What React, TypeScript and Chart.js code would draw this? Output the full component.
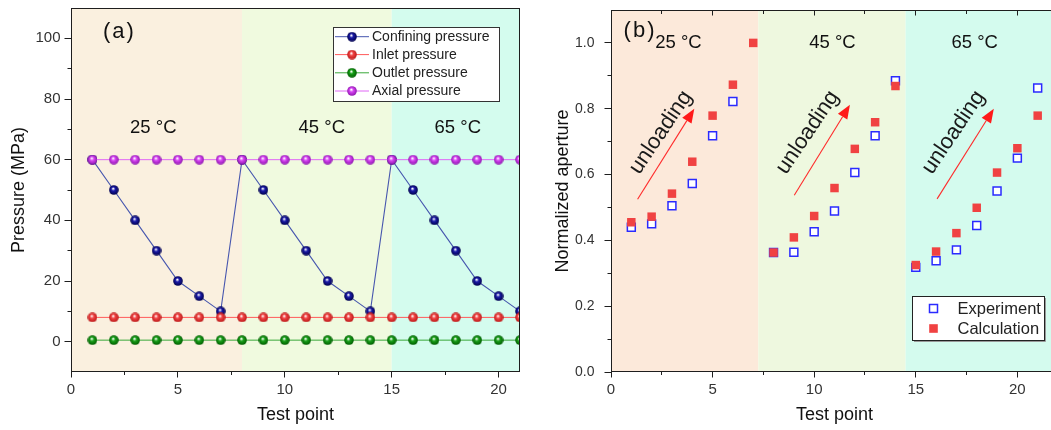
import React, { useEffect, useRef } from "react";
import { Chart, registerables } from "chart.js";

Chart.register(...registerables);

const FONT = '"Liberation Sans", Arial, Helvetica, sans-serif';

// ---------- Panel (a) data ----------
const testPoints = [1, 2, 3, 4, 5, 6, 7, 8, 9, 10, 11, 12, 13, 14, 15, 16, 17, 18, 19, 20, 21];
const confiningPressure = [60, 50, 40, 30, 20, 15, 10, 60, 50, 40, 30, 20, 15, 10, 60, 50, 40, 30, 20, 15, 10];
const inletPressure = [8, 8, 8, 8, 8, 8, 8, 8, 8, 8, 8, 8, 8, 8, 8, 8, 8, 8, 8, 8, 8];
const outletPressure = [0.5, 0.5, 0.5, 0.5, 0.5, 0.5, 0.5, 0.5, 0.5, 0.5, 0.5, 0.5, 0.5, 0.5, 0.5, 0.5, 0.5, 0.5, 0.5, 0.5, 0.5];
const axialPressure = [60, 60, 60, 60, 60, 60, 60, 60, 60, 60, 60, 60, 60, 60, 60, 60, 60, 60, 60, 60, 60];
const pressureTicks = [0, 20, 40, 60, 80, 100];
const pressureTickLabels = ["0", "20", "40", "60", "80", "100"];
const pressureMinorTicks = [10, 30, 50, 70, 90];
const testPointTicks = [0, 5, 10, 15, 20];
const testPointTickLabels = ["0", "5", "10", "15", "20"];
const testPointMinorTicks = [2.5, 7.5, 12.5, 17.5];
const temperatureLabels = ["25 °C", "45 °C", "65 °C"];
const stageBoundsA = [0, 8, 15, 21];
const stageBoundsB = [0, 7.25, 14.5, 22];

// ---------- Panel (b) data ----------
const experimentAperture = [0.44, 0.45, 0.505, 0.573, 0.718, 0.822, null, 0.363, 0.364, 0.426, 0.489, 0.606, 0.718, 0.885, 0.318, 0.338, 0.371, 0.445, 0.55, 0.65, 0.863];
const calculationAperture = [0.455, 0.472, 0.542, 0.639, 0.779, 0.873, 1.0, 0.363, 0.409, 0.474, 0.559, 0.678, 0.759, 0.869, 0.325, 0.366, 0.422, 0.499, 0.606, 0.68, 0.779];
const apertureTicks = [0, 0.2, 0.4, 0.6, 0.8, 1.0];
const apertureTickLabels = ["0.0", "0.2", "0.4", "0.6", "0.8", "1.0"];
const apertureMinorTicks = [0.1, 0.3, 0.5, 0.7, 0.9];
// unloading arrows: [x0, y0, x1, y1] in data units, and text centres
const unloadingArrowsB = [
  [1.31, 0.525, 4.1, 0.8],
  [9.02, 0.537, 11.76, 0.812],
  [16.05, 0.526, 18.84, 0.8],
];
const unloadingTextPos = [
  [2.45, 0.728],
  [9.68, 0.728],
  [16.86, 0.728],
];

function ball(color: string, dark: string, size = 10): HTMLCanvasElement {
  const c = document.createElement("canvas");
  c.width = size;
  c.height = size;
  const g = c.getContext("2d")!;
  const r = size / 2;
  const grad = g.createRadialGradient(r * 0.85, r * 0.7, 0.3, r, r, r);
  grad.addColorStop(0, "#ffffff");
  grad.addColorStop(0.35, color);
  grad.addColorStop(1, dark);
  g.fillStyle = grad;
  g.beginPath();
  g.arc(r, r, r - 0.2, 0, Math.PI * 2);
  g.fill();
  return c;
}

function seg(ctx: CanvasRenderingContext2D, x1: number, y1: number, x2: number, y2: number) {
  ctx.beginPath();
  ctx.moveTo(x1, y1);
  ctx.lineTo(x2, y2);
  ctx.stroke();
}
const h = (v: number) => Math.round(v) + 0.5;

type PanelCfg = {
  bounds: number[];
  colors: string[];
  yMajor: number[];
  yMinor: number[];
  yLabels: string[];
  yLabelGap: number;
  yLabelFont: number;
  xMajor: number[];
  xMinor: number[];
  xLabels: string[];
  topTicks: boolean;
  rightLine: boolean;
  yTitle: string;
  yTitleX: number;
  xTitle: string;
  extra: (chart: any) => void;
};

function framePlugin(cfg: PanelCfg) {
  return {
    id: "frame",
    beforeDatasetsDraw(chart: any) {
      const { ctx, chartArea: a, scales } = chart;
      const x = scales.x;
      ctx.save();
      for (let i = 0; i < cfg.colors.length; i++) {
        const x0 = x.getPixelForValue(cfg.bounds[i]);
        const x1 = x.getPixelForValue(cfg.bounds[i + 1]);
        ctx.fillStyle = cfg.colors[i];
        ctx.fillRect(x0, a.top, x1 - x0, a.bottom - a.top);
      }
      ctx.restore();
    },
    afterDatasetsDraw(chart: any) {
      const { ctx, chartArea: a, scales } = chart;
      const x = scales.x;
      const y = scales.y;
      ctx.save();
      ctx.strokeStyle = "#1e1e1e";
      ctx.lineWidth = 1;
      const L = Math.floor(a.left) + 0.5;
      const R = Math.floor(a.right) - 0.5;
      const T = Math.floor(a.top) + 0.5;
      const B = Math.floor(a.bottom) - 0.5;
      seg(ctx, L, T, L, B + 0.5);
      seg(ctx, L - 0.5, B, R + 0.5, B);
      seg(ctx, L - 0.5, T, R + 0.5, T);
      if (cfg.rightLine) seg(ctx, R, T, R, B);
      cfg.yMajor.forEach((v) => {
        const p = h(y.getPixelForValue(v) - 0.5);
        seg(ctx, L - 7, p, L, p);
      });
      cfg.yMinor.forEach((v) => {
        const p = h(y.getPixelForValue(v) - 0.5);
        seg(ctx, L - 4, p, L, p);
      });
      cfg.xMajor.forEach((v) => {
        const p = h(x.getPixelForValue(v) - 0.5);
        seg(ctx, p, B, p, B + 6);
        if (cfg.topTicks) seg(ctx, p, T, p, T + 5);
      });
      cfg.xMinor.forEach((v) => {
        const p = h(x.getPixelForValue(v) - 0.5);
        seg(ctx, p, B, p, B + 3.5);
        if (cfg.topTicks) seg(ctx, p, T, p, T + 3.5);
      });
      ctx.fillStyle = "#333";
      ctx.font = `${cfg.yLabelFont}px ${FONT}`;
      ctx.textAlign = "right";
      ctx.textBaseline = "middle";
      cfg.yMajor.forEach((v, i) => {
        ctx.fillText(cfg.yLabels[i], L - cfg.yLabelGap, y.getPixelForValue(v));
      });
      ctx.font = `15px ${FONT}`;
      ctx.textAlign = "center";
      cfg.xMajor.forEach((v, i) => {
        ctx.fillText(cfg.xLabels[i], x.getPixelForValue(v), B + 18);
      });
      ctx.fillStyle = "#111";
      ctx.font = `18px ${FONT}`;
      ctx.fillText(cfg.xTitle, (a.left + a.right) / 2, 415);
      ctx.save();
      ctx.translate(cfg.yTitleX, (a.top + a.bottom) / 2);
      ctx.rotate(-Math.PI / 2);
      ctx.fillText(cfg.yTitle, 0, 0);
      ctx.restore();
      cfg.extra(chart);
      ctx.restore();
    },
  };
}

function drawText(ctx: CanvasRenderingContext2D, text: string, px: number, py: number, size: number, spacing = "0px") {
  ctx.save();
  ctx.fillStyle = "#111";
  ctx.font = `${size}px ${FONT}`;
  (ctx as any).letterSpacing = spacing;
  ctx.textAlign = "center";
  ctx.textBaseline = "middle";
  ctx.fillText(text, px, py);
  ctx.restore();
}

export default function App() {
  const refA = useRef<HTMLCanvasElement | null>(null);
  const refB = useRef<HTMLCanvasElement | null>(null);

  useEffect(() => {
    const navy = ball("#1a1aa8", "#00004a");
    const red = ball("#f24444", "#b81818");
    const green = ball("#18a018", "#005a00");
    const magenta = ball("#d846f4", "#8c14ac");

    const pts = (vals: (number | null)[]) => testPoints.map((t, i) => ({ x: t, y: vals[i] }));

    const chartA = new Chart(refA.current!, {
      type: "line",
      data: {
        datasets: [
          { label: "Confining pressure", data: pts(confiningPressure), borderColor: "#4656ae", borderWidth: 1.1, pointStyle: navy as any, pointRadius: 5, order: 4 },
          { label: "Inlet pressure", data: pts(inletPressure), borderColor: "#ff5a5a", borderWidth: 1, pointStyle: red as any, pointRadius: 5, order: 3 },
          { label: "Outlet pressure", data: pts(outletPressure), borderColor: "#3aa83a", borderWidth: 1, pointStyle: green as any, pointRadius: 5, order: 2 },
          { label: "Axial pressure", data: pts(axialPressure), borderColor: "#e066f6", borderWidth: 1, pointStyle: magenta as any, pointRadius: 5, order: 1 },
        ],
      },
      options: {
        animation: false,
        responsive: false,
        devicePixelRatio: 1,
        events: [],
        layout: { padding: { left: 71, top: 8, right: 20, bottom: 58 } },
        scales: {
          x: { type: "linear", min: 0, max: 21, display: false },
          y: { type: "linear", min: -10, max: 110, display: false },
        },
        plugins: { legend: { display: false }, tooltip: { enabled: false } },
      },
      plugins: [
        framePlugin({
          bounds: stageBoundsA,
          colors: ["#faf0df", "#f0fadf", "#d4fcee"],
          yMajor: pressureTicks,
          yMinor: pressureMinorTicks,
          yLabels: pressureTickLabels,
          yLabelGap: 11,
          yLabelFont: 15,
          xMajor: testPointTicks,
          xMinor: testPointMinorTicks,
          xLabels: testPointTickLabels,
          topTicks: false,
          rightLine: true,
          yTitle: "Pressure (MPa)",
          yTitleX: 19,
          xTitle: "Test point",
          extra: (chart: any) => {
            const { ctx, scales } = chart;
            const x = scales.x;
            const y = scales.y;
            const tx = [3.85, 11.73, 18.09];
            temperatureLabels.forEach((t, i) => drawText(ctx, t, x.getPixelForValue(tx[i]), y.getPixelForValue(70.5), 18.5));
            drawText(ctx, "(a)", x.getPixelForValue(2.26), y.getPixelForValue(102), 22, "2px");
            const bx = 333.5, by = 27.5, bw = 166, bh = 74;
            ctx.save();
            ctx.fillStyle = "#ffffff";
            ctx.fillRect(bx, by, bw, bh);
            ctx.strokeStyle = "#333";
            ctx.lineWidth = 1;
            ctx.strokeRect(bx, by, bw, bh);
            const rows = [36.7, 54.6, 72.8, 91];
            chart.data.datasets.forEach((ds: any, i: number) => {
              ctx.strokeStyle = ds.borderColor;
              seg(ctx, 335, rows[i], 369, rows[i]);
              const img = ds.pointStyle as HTMLCanvasElement;
              ctx.drawImage(img, 352 - img.width / 2, rows[i] - img.height / 2);
              ctx.fillStyle = "#222";
              ctx.font = `14px ${FONT}`;
              ctx.textAlign = "left";
              ctx.textBaseline = "middle";
              ctx.fillText(ds.label, 372, rows[i] + 0.5);
            });
            ctx.restore();
          },
        }),
      ],
    });

    const chartB = new Chart(refB.current!, {
      type: "scatter",
      data: {
        datasets: [
          { label: "Experiment", data: pts(experimentAperture), pointStyle: "rect", pointRadius: 5.6, backgroundColor: "#ffffff", borderColor: "#2a2aff", borderWidth: 1.5, order: 2 },
          { label: "Calculation", data: pts(calculationAperture), pointStyle: "rect", pointRadius: 6, backgroundColor: "#f04242", borderColor: "#f04242", borderWidth: 0, order: 1 },
        ],
      },
      options: {
        animation: false,
        responsive: false,
        devicePixelRatio: 1,
        events: [],
        layout: { padding: { left: 71, top: 10, right: 12, bottom: 58 } },
        scales: {
          x: { type: "linear", min: 0, max: 22, display: false },
          y: { type: "linear", min: 0, max: 1.1, display: false },
        },
        plugins: { legend: { display: false }, tooltip: { enabled: false } },
      },
      plugins: [
        framePlugin({
          bounds: stageBoundsB,
          colors: ["#fce9da", "#eef8df", "#d4fbee"],
          yMajor: apertureTicks,
          yMinor: apertureMinorTicks,
          yLabels: apertureTickLabels,
          yLabelGap: 17,
          yLabelFont: 14,
          xMajor: testPointTicks,
          xMinor: testPointMinorTicks,
          xLabels: testPointTickLabels,
          topTicks: true,
          rightLine: true,
          yTitle: "Normalized aperture",
          yTitleX: 23,
          xTitle: "Test point",
          extra: (chart: any) => {
            const { ctx, scales } = chart;
            const x = scales.x;
            const y = scales.y;
            const tx = [3.32, 10.9, 17.9];
            temperatureLabels.forEach((t, i) => drawText(ctx, t, x.getPixelForValue(tx[i]), y.getPixelForValue(1.0), 18.5));
            drawText(ctx, "(b)", x.getPixelForValue(1.43), y.getPixelForValue(1.036), 22, "2px");
            unloadingArrowsB.forEach((arr, i) => {
              const x0 = x.getPixelForValue(arr[0]);
              const y0 = y.getPixelForValue(arr[1]);
              const x1 = x.getPixelForValue(arr[2]);
              const y1 = y.getPixelForValue(arr[3]);
              const ang = Math.atan2(y1 - y0, x1 - x0);
              const hl = 14, hw = 5.5;
              const bxp = x1 - hl * Math.cos(ang);
              const byp = y1 - hl * Math.sin(ang);
              ctx.save();
              ctx.strokeStyle = "#ff2a2a";
              ctx.fillStyle = "#ff1a1a";
              ctx.lineWidth = 1.1;
              seg(ctx, x0, y0, bxp, byp);
              ctx.beginPath();
              ctx.moveTo(x1, y1);
              ctx.lineTo(bxp + hw * Math.sin(ang), byp - hw * Math.cos(ang));
              ctx.lineTo(bxp - hw * Math.sin(ang), byp + hw * Math.cos(ang));
              ctx.closePath();
              ctx.fill();
              ctx.restore();
              const tp = unloadingTextPos[i];
              ctx.save();
              ctx.translate(x.getPixelForValue(tp[0]), y.getPixelForValue(tp[1]));
              ctx.rotate((-56 * Math.PI) / 180);
              ctx.fillStyle = "#1a1a1a";
              ctx.font = `22px ${FONT}`;
              ctx.textAlign = "center";
              ctx.textBaseline = "middle";
              ctx.fillText("unloading", 0, 0);
              ctx.restore();
            });
            const bx = 372.5, by = 296.5, bw = 132, bh = 44;
            ctx.save();
            ctx.fillStyle = "#ffffff";
            ctx.fillRect(bx, by, bw, bh);
            ctx.strokeStyle = "#999";
            seg(ctx, bx + 1.5, by + bh + 1, bx + bw + 1, by + bh + 1);
            seg(ctx, bx + bw + 1, by + 1.5, bx + bw + 1, by + bh + 1);
            ctx.strokeStyle = "#222";
            ctx.lineWidth = 1;
            ctx.strokeRect(bx, by, bw, bh);
            const rows = [308.5, 328.5];
            chart.data.datasets.forEach((ds: any, i: number) => {
              const cx = 393.5;
              if (i === 0) {
                ctx.fillStyle = "#fff";
                ctx.strokeStyle = ds.borderColor;
                ctx.lineWidth = 1.5;
                ctx.fillRect(cx - 4, rows[i] - 4, 8, 8);
                ctx.strokeRect(cx - 4, rows[i] - 4, 8, 8);
              } else {
                ctx.fillStyle = ds.backgroundColor;
                ctx.fillRect(cx - 4.3, rows[i] - 4.3, 8.6, 8.6);
              }
              ctx.fillStyle = "#222";
              ctx.font = `16.5px ${FONT}`;
              ctx.textAlign = "left";
              ctx.textBaseline = "middle";
              ctx.fillText(ds.label, 417.5, rows[i] + 0.5);
            });
            ctx.restore();
          },
        }),
      ],
    });

    return () => {
      chartA.destroy();
      chartB.destroy();
    };
  }, []);

  return (
    <div style={{ position: "fixed", left: 0, top: 0, width: 1051, height: 430, overflow: "hidden", background: "#fff" }}>
      <canvas ref={refA} width={540} height={430} style={{ position: "absolute", left: 0, top: 0, width: 540, height: 430 }} />
      <canvas ref={refB} width={530} height={430} style={{ position: "absolute", left: 540, top: 0, width: 530, height: 430 }} />
    </div>
  );
}
